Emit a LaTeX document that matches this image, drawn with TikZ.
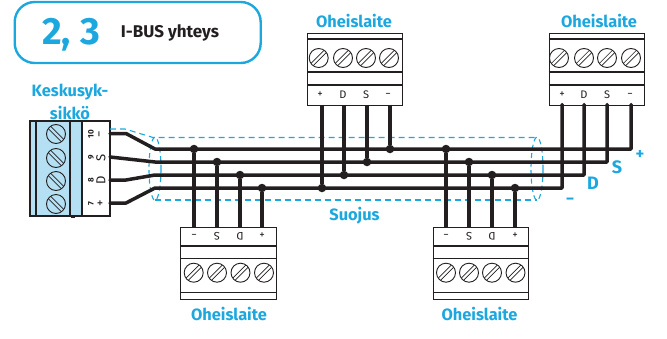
\documentclass[tikz,border=0pt]{standalone}
\usepackage{fontspec}
\setmainfont{Fira Sans}
\definecolor{bl}{HTML}{1CA7DF}
\definecolor{pale}{HTML}{B5E0F3}
\definecolor{ink}{HTML}{231F20}
\tikzset{
  wire/.style={ink,line width=3.5pt,line cap=round,line join=round},
  shield/.style={bl,line width=1.1pt,dash pattern=on 6pt off 4pt},
  thin/.style={draw=ink,line width=1.1pt},
  dot/.style={circle,fill=ink,inner sep=0pt,minimum size=8.5pt},
  lab/.style={text=bl,font=\fontsize{16.4}{16.4}\selectfont\bfseries,inner sep=0pt},
  pin/.style={text=ink,font=\fontsize{11}{11}\selectfont,inner sep=0pt},
  screw/.style={circle,draw=ink,line width=0.9pt,minimum size=19pt,inner sep=0pt},
}
\newcommand{\myscrew}[3]{% name, pos, angle
  \node[screw] (#1) at (#2) {};
  \draw[ink,line width=.7pt,shift={(#2)},rotate=#3] (-9,-1.6) -- (9,-1.6) (-9,1.6) -- (9,1.6);
}
\newcommand{\topdev}[6]{% name,x0,s1,s2,s3,s4
  \node[thin,rectangle,minimum width=95pt,minimum height=71.5pt,inner sep=0pt,anchor=north west] (#1) at (#2,33) {};
  \draw[thin] (#2,39) -- ++(95,0) (#2,72) -- ++(95,0) (#2,85) -- ++(95,0);
  \myscrew{#1a}{#3,58}{45}\myscrew{#1b}{#4,58}{45}\myscrew{#1c}{#5,58}{45}\myscrew{#1d}{#6,58}{45}
}
\newcommand{\botdev}[6]{%
  \node[thin,rectangle,minimum width=95.5pt,minimum height=72pt,inner sep=0pt,anchor=north west] (#1) at (#2,226.7) {};
  \draw[thin] (#2,246) -- ++(95.5,0) (#2,258.7) -- ++(95.5,0) (#2,292.7) -- ++(95.5,0);
  \myscrew{#1a}{#3,272.7}{45}\myscrew{#1b}{#4,272.7}{45}\myscrew{#1c}{#5,272.7}{45}\myscrew{#1d}{#6,272.7}{45}
}
\begin{document}
\begin{tikzpicture}[x=1pt,y=-1pt]
\useasboundingbox (0,0) rectangle (667,338);
% title
\node[draw=bl,line width=2.4pt,rounded corners=20pt,minimum width=246pt,minimum height=61pt,inner sep=0pt,anchor=north west] (title) at (13.5,0.8) {};
\node[text=bl,font=\fontsize{38}{38}\selectfont\bfseries,inner sep=0pt] (num) at (71,35) {2, 3};
\node[text=ink,font=\fontsize{17}{17}\selectfont\bfseries,inner sep=0pt] (ttl) at (170,33) {I-BUS yhteys};
% central unit
\node[lab] (k1) at (70,92) {Keskusyk-};
\node[lab] (k2) at (70,113) {sikkö};
\node[draw=ink,line width=1.1pt,fill=white,rectangle,minimum width=80pt,minimum height=95pt,inner sep=0pt,anchor=north west] (cu) at (30,121) {};
\fill[pale] (30,121) rectangle (82,216);
\draw[thin] (30,121) rectangle (110,216) (36,121) -- (36,216) (70,121) -- (70,216) (82,121) -- (82,216);
\fill[ink] (71,216) rectangle (75,218);
\myscrew{c1}{56,134}{-45}\myscrew{c2}{56,158}{-45}\myscrew{c3}{56,181}{-45}\myscrew{c4}{56,204}{-45}
\foreach \y/\n/\s in {134/10/−,157.5/9/S,180.5/8/D,203.5/7/+}{
  \node[pin,rotate=90,font=\fontsize{8}{8}\selectfont\bfseries] at (91,\y) {\n};
  \node[pin,rotate=90,font=\fontsize{13}{13}\selectfont] at (101,\y) {\s};
}
% devices
\topdev{u}{307}{318.7}{343}{366}{389}
\topdev{v}{548.5}{559}{584}{607}{631}
\botdev{p}{180}{193.7}{217}{240.5}{264}
\botdev{q}{432.7}{446}{469}{492}{515.5}
\foreach \x/\s in {320/+,343/D,366/S,388/−}{\node[pin] at (\x,95) {\s};}
\foreach \x/\s in {562/+,584/D,607/S,630/−}{\node[pin] at (\x,95) {\s};}
\foreach \x/\s/\r in {194/−/0,217/S/180,240/D/180,262/+/0,446/−/0,469/S/180,492/D/180,515/+/0}{\node[pin,rotate=\r] at (\x,236) {\s};}
% labels
\node[lab] (l1) at (354,20.5) {Oheislaite};
\node[lab] (l2) at (599,20.5) {Oheislaite};
\node[lab] (l3) at (229,313.5) {Oheislaite};
\node[lab] (l4) at (479.5,313.5) {Oheislaite};
\node[lab] (l5) at (354.5,215.5) {Suojus};
\node[lab] (lp) at (640,154.5) {+};
\node[lab,font=\fontsize{18}{18}\selectfont\bfseries] (ls) at (617,167.5) {S};
\node[lab,font=\fontsize{18}{18}\selectfont\bfseries] (ld) at (593,183) {D};
\node[lab] (lm) at (570,201) {−};
% shield
\draw[shield] (110,129) -- (125,129) -- (153,137.5) -- (537,137.5);
\draw[shield] (155,200) -- (537,200);
\draw[bl,line width=1.1pt,dash pattern=on 5pt off 3.5pt] (155,168.7) ellipse [x radius=6,y radius=31.5];
\draw[bl,line width=1.1pt,dash pattern=on 5pt off 3.5pt] (537,168.7) ellipse [x radius=6,y radius=31.5];
% anchors for pins
\foreach \n/\x/\y in {c1/110/133.5,c2/110/157,c3/110/180,c4/110/203,
  m1/126/133.5,m4/126/203,m3/126/180,
  b1/155/149,b2/155/162,b3/155/175,b4/155/188,
  e1/631/149,e2/607/162,e3/584/175,e4/562/188,
  ut1/322/104.5,ut2/344/104.5,ut3/367/104.5,ut4/390/104.5,
  vt1/562/104.5,vt2/584/104.5,vt3/607/104.5,vt4/631/104.5,
  pt1/194/226.7,pt2/217/226.7,pt3/240/226.7,pt4/262/226.7,
  qt1/446/226.7,qt2/469/226.7,qt3/492/226.7,qt4/515/226.7}{
  \coordinate (\n x) at (\x,\y);
}
% bus
\draw[wire] (c1x) -- (m1x) -- (b1x) -- (e1x) -- (vt4x);
\draw[wire] (c2x) -- (b2x) -- (e2x) -- (vt3x);
\draw[wire] (c3x) -- (m3x) -- (b3x) -- (e3x) -- (vt2x);
\draw[wire] (c4x) -- (m4x) -- (b4x) -- (e4x) -- (vt1x);
% taps
\foreach \t/\y in {ut1/188,ut2/175,ut3/162,ut4/149,pt1/149,pt2/162,pt3/175,pt4/188,qt1/149,qt2/162,qt3/175,qt4/188}{
  \path (\t x); \pgfgetlastxy{\px}{\py}
  \node[dot] (d\t) at (\px,\y*-1pt) {};
  \draw[wire,line cap=butt] (\t x) -- (d\t);
}
\end{tikzpicture}
\end{document}
